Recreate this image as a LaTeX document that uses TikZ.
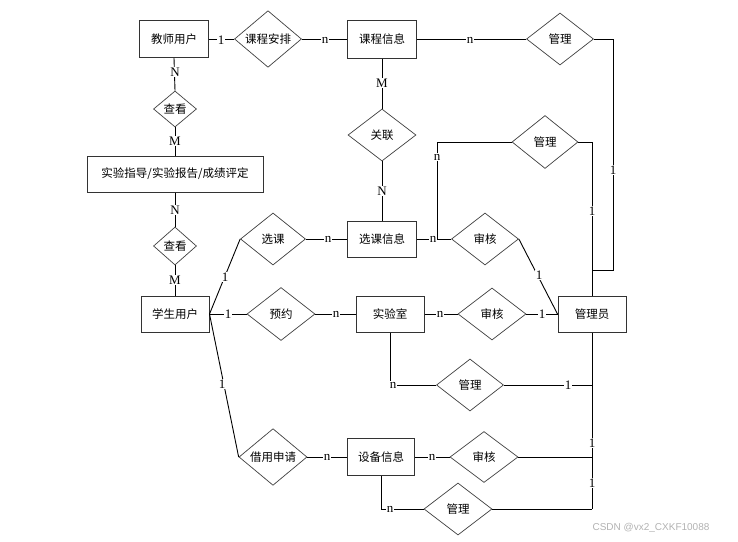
\documentclass[tikz,border=0pt]{standalone}
\usepackage{fontspec}
\setmainfont{Liberation Serif}
\newfontfamily\cjk{Noto Sans CJK SC}
\newfontfamily\wmfont{Liberation Sans}
\usetikzlibrary{shapes.geometric}
\tikzset{
  ent/.style={draw=black!80, line width=1pt, minimum width=68pt, minimum height=36pt, inner sep=0pt, font=\cjk\fontsize{11.5}{13}\selectfont, fill=white},
  rel/.style={draw=black!75, line width=0.7pt, diamond, minimum width=67pt, minimum height=52pt, inner sep=0pt, font=\cjk\fontsize{11.5}{13}\selectfont, fill=white},
  smallrel/.style={rel, minimum width=43pt, minimum height=36pt},
  conn/.style={draw=black, line width=0.9pt},
  card/.style={fill=white, inner sep=0.8pt, font=\fontsize{13}{13}\selectfont}
}
\begin{document}
\begin{tikzpicture}[x=1pt,y=-1pt]
\useasboundingbox (0,0) rectangle (738,541);
\coordinate (c1) at (613,270);
\coordinate (c2) at (437,239);
\coordinate (c3) at (592,509);
\coordinate (c4) at (592,385);
\coordinate (c5) at (592,457);

% entities
\node[ent, minimum width=69pt, minimum height=37pt] (t) at (174,39) {教师用户};
\node[ent, minimum width=69pt, minimum height=38pt] (kcxx) at (382,39) {课程信息};
\node[ent, minimum width=176pt] (syzd) at (175,174) {实验指导/实验报告/成绩评定};
\node[ent, minimum width=69pt] (xkxx) at (382,239) {选课信息};
\node[ent] (xs) at (175,314) {学生用户};
\node[ent] (sys) at (390,314) {实验室};
\node[ent] (gly) at (592,314) {管理员};
\node[ent, minimum width=67pt, minimum height=37pt] (sbxx) at (381,457) {设备信息};

% relationships
\node[rel] (kcap) at (268,39) {课程安排};
\node[rel] (gl1) at (560,39) {管理};
\node[smallrel] (ck1) at (175,109) {查看};
\node[smallrel, minimum height=38pt] (ck2) at (175,246) {查看};
\node[rel, minimum width=65pt] (xk) at (273,239) {选课};
\node[rel, minimum width=66pt, minimum height=53pt] (gl2) at (545,142) {管理};
\node[rel, minimum width=68pt] (gll) at (382,135) {关联};
\node[rel] (sh1) at (485,239) {审核};
\node[rel, minimum width=68pt, minimum height=53pt] (yy) at (281,314) {预约};
\node[rel, minimum width=68pt] (sh2) at (492,314) {审核};
\node[rel] (gl3) at (470,385) {管理};
\node[rel, minimum width=68pt, minimum height=51pt] (jy) at (273,457) {借用申请};
\node[rel, minimum width=68pt, minimum height=51pt] (sh3) at (484,457) {审核};
\node[rel, minimum width=68pt] (gl4) at (458,509) {管理};

% connectors
\draw[conn] (t.east) -- (kcap.west);
\draw[conn] (kcap.east) -- (kcxx.west);
\draw[conn] (kcxx.east) -- (gl1.west);
\draw[conn] (gl1.east) -| (c1) -| (gly.north);
\draw[conn] (gl2.east) -| (gly.north);
\draw[conn] (gl2.west) -| (c2);
\draw[conn] (kcxx.south) -- (gll.north);
\draw[conn] (gll.south) -- (xkxx.north);
\draw[conn] (xs.east) -- (xk.west);
\draw[conn] (xk.east) -- (xkxx.west);
\draw[conn] (xkxx.east) -- (sh1.west);
\draw[conn] (sh1.east) -- (gly.west);
\draw[conn] (xs.east) -- (yy.west);
\draw[conn] (yy.east) -- (sys.west);
\draw[conn] (sys.east) -- (sh2.west);
\draw[conn] (sh2.east) -- (gly.west);
\draw[conn] (sys.south) |- (gl3.west);
\draw[conn] (gl3.east) -- (c4);
\draw[conn] (gly.south) -- (c3);
\draw[conn] (xs.east) -- (jy.west);
\draw[conn] (jy.east) -- (sbxx.west);
\draw[conn] (sbxx.east) -- (sh3.west);
\draw[conn] (sh3.east) -- (c5);
\draw[conn] (sbxx.south) |- (gl4.west);
\draw[conn] (gl4.east) -- (c3);
\draw[conn] (t.south) -- (ck1.north);
\draw[conn] (ck1.south) -- (syzd.north);
\draw[conn] (syzd.south) -- (ck2.north);
\draw[conn] (ck2.south) -- (xs.north);

% cardinality labels
\node[card] (l1) at (221,40) {1};
\node[card] (l2) at (325,40) {n};
\node[card] (l3) at (470,40) {n};
\node[card] (l4) at (613,170) {1};
\node[card] (l5) at (592,211) {1};
\node[card] (l6) at (437,157) {n};
\node[card] (l7) at (433,239) {n};
\node[card] (l8) at (382,83) {M};
\node[card] (l9) at (382,191) {N};
\node[card] (l10) at (328,239) {n};
\node[card] (l11) at (225,277) {1};
\node[card] (l12) at (539,275) {1};
\node[card] (l13) at (228,314) {1};
\node[card] (l14) at (336,314) {n};
\node[card] (l15) at (440,314) {n};
\node[card] (l16) at (542,314) {1};
\node[card] (l17) at (393,385) {n};
\node[card] (l18) at (568,385) {1};
\node[card] (l19) at (222,384) {1};
\node[card] (l20) at (327,457) {n};
\node[card] (l21) at (432,457) {n};
\node[card] (l22) at (592,443) {1};
\node[card] (l23) at (390,509) {n};
\node[card] (l24) at (592,483) {1};
\node[card] (l25) at (175,72) {N};
\node[card] (l26) at (175,141) {M};
\node[card] (l27) at (175,210) {N};
\node[card] (l28) at (175,280) {M};

\node[font=\wmfont\fontsize{10}{10}\selectfont, text=black!30] (wm) at (651,528) {CSDN @vx2\_CXKF10088};
\end{tikzpicture}
\end{document}
